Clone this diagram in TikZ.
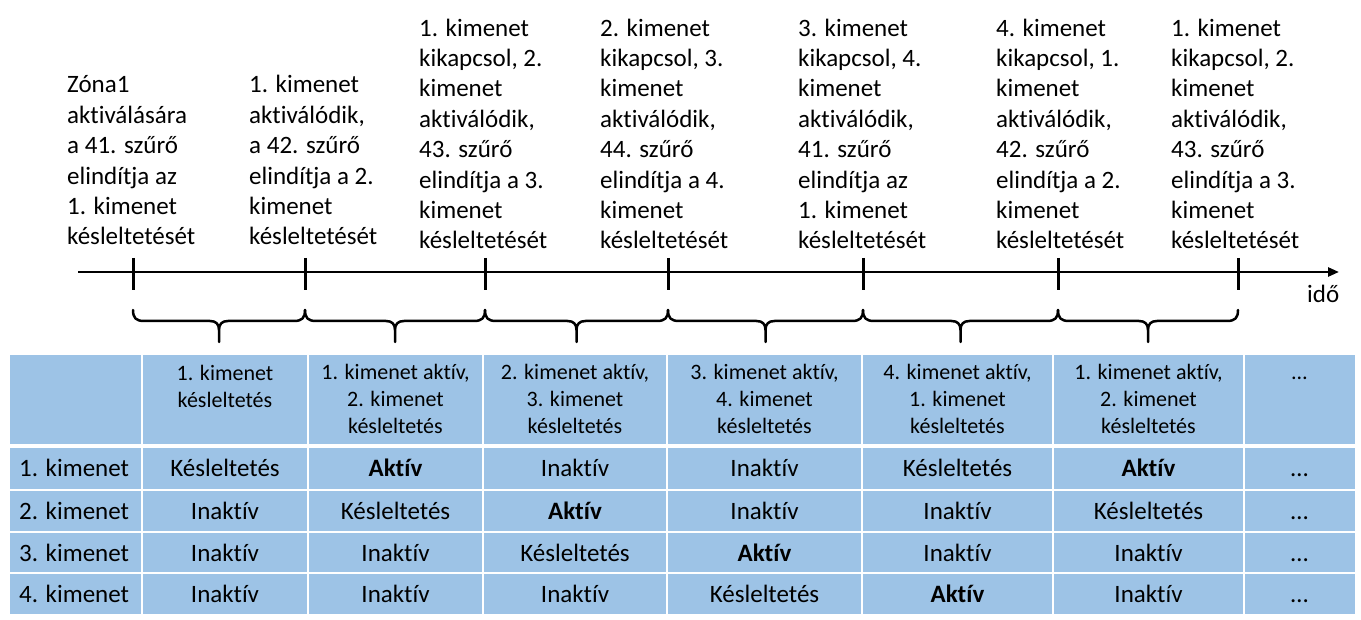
\documentclass[tikz,border=0pt]{standalone}
\usepackage{fontspec}
\setmainfont{Carlito}[Ligatures=NoCommon]
\usetikzlibrary{arrows.meta}
\definecolor{cellblue}{RGB}{157,195,230}
\begin{document}
\begin{tikzpicture}[x=1pt,y=-1pt,
  toptext/.style={anchor=base west,inner sep=0pt,align=left,font=\fontsize{25}{30.4}\selectfont},
  headtext/.style={anchor=base,inner sep=0pt,align=center,font=\fontsize{22}{26.7}\selectfont},
  celltext/.style={anchor=base,inner sep=0pt,font=\fontsize{25}{30}\selectfont},
  rowlabel/.style={anchor=base west,inner sep=0pt,font=\fontsize{25}{30}\selectfont},
  axisline/.style={line width=2.5pt},
  tickmark/.style={line width=3pt},
  bracestyle/.style={line width=2.5pt,line join=round,line cap=round},
  gridline/.style={white,line width=2.5pt}]
\useasboundingbox (0,0) rectangle (1361,620);

% timeline
\coordinate (axstart) at (78,272);
\coordinate (axend) at (1339,272);
\draw[axisline,-{Triangle[length=11pt,width=9pt]}] (axstart) -- (axend);
\foreach \n/\x in {0/133,1/305,2/485,3/668,4/863,5/1058,6/1238}{
  \coordinate (t\n) at (\x,272);
  \draw[tickmark] (t\n) ++(0,-14) -- ++(0,32);
}
\node[toptext] (ido) at (1307,303) {idő};

% braces
\foreach \a/\b in {133/305,305/485,485/668,668/863,863/1058,1058/1238}{
  \pgfmathsetmacro\m{(\a+\b)/2}
  \draw[bracestyle] (\a,310) .. controls (\a,318) and (\a+3,321) .. (\a+11,321)
     -- (\m-9,321) .. controls (\m-3,321) and (\m,324) .. (\m,330) -- (\m,342)
     (\m,330) .. controls (\m,324) and (\m+3,321) .. (\m+9,321)
     -- (\b-11,321) .. controls (\b-3,321) and (\b,318) .. (\b,310);
}

% texts above the timeline (anchored at the baseline of the last line)
\node[toptext] (e0) at (67,245) {Zóna1\\aktiválására\\a 41. szűrő\\elindítja az\\1. kimenet\\késleltetését};
\node[toptext] (e1) at (249,245) {1. kimenet\\aktiválódik,\\a 42. szűrő\\elindítja a 2.\\kimenet\\késleltetését};
\node[toptext] (e2) at (419,249) {1. kimenet\\kikapcsol, 2.\\kimenet\\aktiválódik,\\43. szűrő\\elindítja a 3.\\kimenet\\késleltetését};
\node[toptext] (e3) at (600,249) {2. kimenet\\kikapcsol, 3.\\kimenet\\aktiválódik,\\44. szűrő\\elindítja a 4.\\kimenet\\késleltetését};
\node[toptext] (e4) at (798,249) {3. kimenet\\kikapcsol, 4.\\kimenet\\aktiválódik,\\41. szűrő\\elindítja az\\1. kimenet\\késleltetését};
\node[toptext] (e5) at (996,249) {4. kimenet\\kikapcsol, 1.\\kimenet\\aktiválódik,\\42. szűrő\\elindítja a 2.\\kimenet\\késleltetését};
\node[toptext] (e6) at (1171,249) {1. kimenet\\kikapcsol, 2.\\kimenet\\aktiválódik,\\43. szűrő\\elindítja a 3.\\kimenet\\késleltetését};

% table
\fill[cellblue] (10,355) rectangle (1355,614);
\foreach \x in {142,308,483,667,862,1053,1244}
  \draw[gridline] (\x,355) -- (\x,614);
\draw[white,line width=4pt] (10,446) -- (1355,446);
\foreach \y in {490,532,573}
  \draw[gridline] (10,\y) -- (1355,\y);

% header (anchored at the baseline of the last line)
\node[headtext] (h1) at (225,407) {1. kimenet\\késleltetés};
\node[headtext] (h2) at (395.5,433) {1. kimenet aktív,\\2. kimenet\\késleltetés};
\node[headtext] (h3) at (575,433) {2. kimenet aktív,\\3. kimenet\\késleltetés};
\node[headtext] (h4) at (764.5,433) {3. kimenet aktív,\\4. kimenet\\késleltetés};
\node[headtext] (h5) at (957.5,433) {4. kimenet aktív,\\1. kimenet\\késleltetés};
\node[headtext] (h6) at (1148.5,433) {1. kimenet aktív,\\2. kimenet\\késleltetés};
\node[headtext] (h7) at (1299.5,380) {…};

% rows
\foreach \r/\y/\lab/\ca/\cb/\cc/\cd/\ce/\cf in {
  1/476/1. kimenet/Késleltetés/\textbf{Aktív}/Inaktív/Inaktív/Késleltetés/\textbf{Aktív},
  2/519/2. kimenet/Inaktív/Késleltetés/\textbf{Aktív}/Inaktív/Inaktív/Késleltetés,
  3/561/3. kimenet/Inaktív/Inaktív/Késleltetés/\textbf{Aktív}/Inaktív/Inaktív,
  4/602/4. kimenet/Inaktív/Inaktív/Inaktív/Késleltetés/\textbf{Aktív}/Inaktív}{
  \node[rowlabel] (r\r) at (19,\y) {\lab};
  \node[celltext] (c\r a) at (225,\y) {\ca};
  \node[celltext] (c\r b) at (395.5,\y) {\cb};
  \node[celltext] (c\r c) at (575,\y) {\cc};
  \node[celltext] (c\r d) at (764.5,\y) {\cd};
  \node[celltext] (c\r e) at (957.5,\y) {\ce};
  \node[celltext] (c\r f) at (1148.5,\y) {\cf};
  \node[celltext] (c\r g) at (1299.5,\y) {…};
}
\end{tikzpicture}
\end{document}
